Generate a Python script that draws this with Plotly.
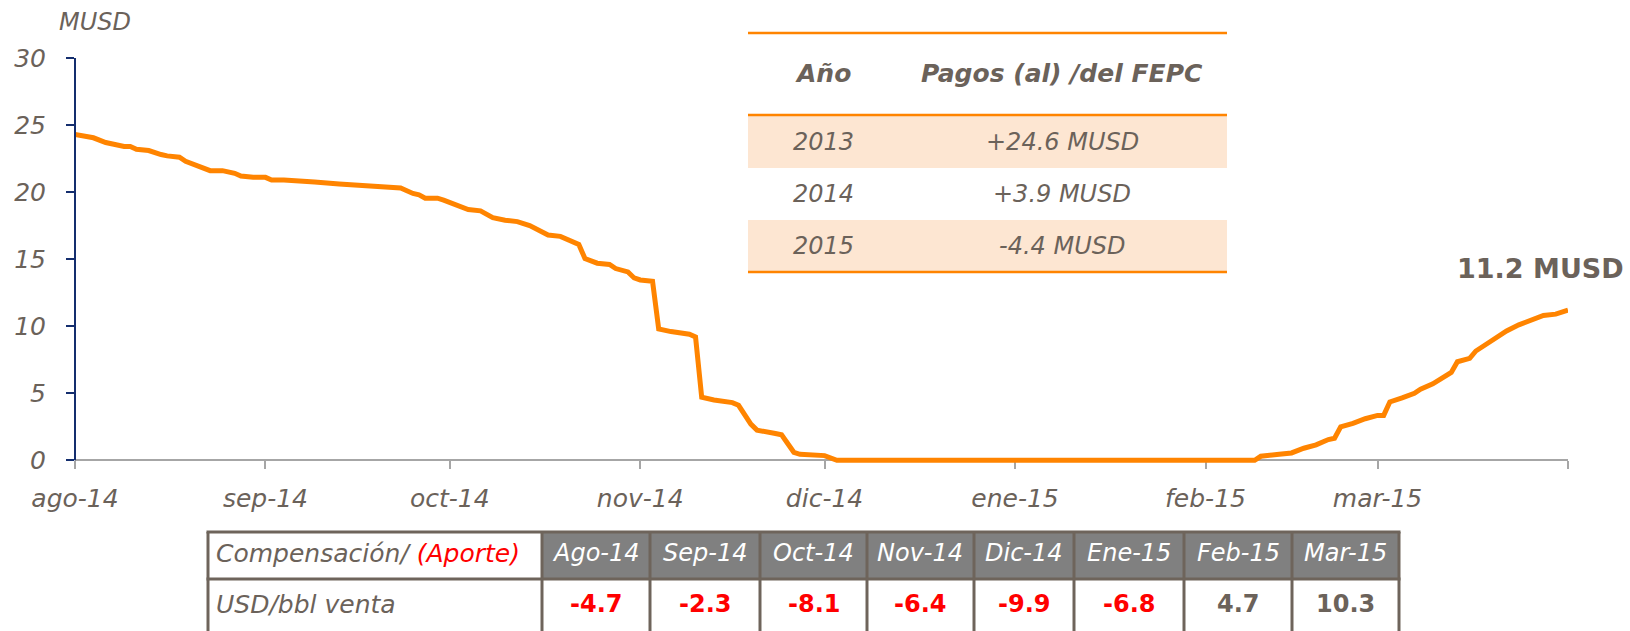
import plotly.graph_objects as go

# ---------------- data ----------------
dates = [
    "2014-08-01", "2014-08-03", "2014-08-04", "2014-08-06", "2014-08-07", "2014-08-09",
    "2014-08-10", "2014-08-11", "2014-08-13", "2014-08-14", "2014-08-15", "2014-08-16",
    "2014-08-18", "2014-08-19", "2014-08-21", "2014-08-22", "2014-08-23", "2014-08-25",
    "2014-08-27", "2014-08-28", "2014-08-30", "2014-09-01", "2014-09-02", "2014-09-04",
    "2014-09-07", "2014-09-09", "2014-09-13", "2014-09-15", "2014-09-18", "2014-09-22",
    "2014-09-23", "2014-09-25", "2014-09-26", "2014-09-27", "2014-09-29", "2014-09-30",
    "2014-10-02", "2014-10-04", "2014-10-06", "2014-10-07", "2014-10-08", "2014-10-10",
    "2014-10-12", "2014-10-14", "2014-10-16", "2014-10-17", "2014-10-19", "2014-10-20",
    "2014-10-22", "2014-10-23", "2014-10-25", "2014-10-27", "2014-10-28", "2014-10-30",
    "2014-10-31", "2014-11-01", "2014-11-03", "2014-11-04", "2014-11-06", "2014-11-09",
    "2014-11-10", "2014-11-11", "2014-11-13", "2014-11-16", "2014-11-17", "2014-11-19",
    "2014-11-20", "2014-11-23", "2014-11-24", "2014-11-26", "2014-11-27", "2014-12-01",
    "2014-12-03", "2015-02-09", "2015-02-10", "2015-02-13", "2015-02-15", "2015-02-17",
    "2015-02-19", "2015-02-21", "2015-02-22", "2015-02-23", "2015-02-25", "2015-02-27",
    "2015-03-01", "2015-03-02", "2015-03-03", "2015-03-05", "2015-03-07", "2015-03-08",
    "2015-03-10", "2015-03-13", "2015-03-14", "2015-03-16", "2015-03-17", "2015-03-19",
    "2015-03-21", "2015-03-22", "2015-03-24", "2015-03-26", "2015-03-28", "2015-03-30",
    "2015-04-01",
]
saldo_musd = [
    24.3, 24.1, 24.05, 23.7, 23.6, 23.4,
    23.4, 23.2, 23.1, 22.9, 22.8, 22.7,
    22.6, 22.3, 21.9, 21.8, 21.6, 21.6,
    21.4, 21.2, 21.1, 21.1, 20.9, 20.9,
    20.85, 20.75, 20.6, 20.55, 20.5, 20.4,
    20.3, 19.9, 19.8, 19.55, 19.55, 19.4,
    19.0, 18.7, 18.6, 18.4, 18.1, 17.9,
    17.8, 17.5, 17.0, 16.8, 16.7, 16.5,
    16.1, 15.05, 14.7, 14.6, 14.3, 14.05,
    13.6, 13.45, 13.35, 9.8, 9.6, 9.4,
    9.2, 4.7, 4.5, 4.3, 4.1, 2.7,
    2.25, 2.0, 1.9, 0.6, 0.45, 0.35,
    0.0, 0.0, 0.3, 0.45, 0.55, 0.9,
    1.15, 1.55, 1.65, 2.5, 2.75, 3.1,
    3.35, 3.35, 4.35, 4.65, 5.0, 5.3,
    5.7, 6.55, 7.35, 7.6, 8.15, 8.75,
    9.4, 9.65, 10.1, 10.5, 10.8, 10.9,
    11.2,
]

month_ticks = ["2014-08-01", "2014-09-01", "2014-10-01", "2014-11-01", "2014-12-01",
               "2015-01-01", "2015-02-01", "2015-03-01", "2015-04-01"]
month_labels = ["ago-14", "sep-14", "oct-14", "nov-14", "dic-14",
                "ene-15", "feb-15", "mar-15", ""]
y_ticks = [0, 5, 10, 15, 20, 25, 30]

anios = ["2013", "2014", "2015"]
pagos_fepc = [24.6, 3.9, -4.4]

meses_tabla = ["Ago-14", "Sep-14", "Oct-14", "Nov-14", "Dic-14", "Ene-15", "Feb-15", "Mar-15"]
usd_bbl_venta = [-4.7, -2.3, -8.1, -6.4, -9.9, -6.8, 4.7, 10.3]

# ---------------- layout helpers ----------------
W, H = 1630, 631
L, R, T, B = 75, 62, 58, 168
PW, PH = W - L - R, H - T - B
Y_MIN, Y_MAX = -0.2, 30


def fx(px):
    return (px - L) / PW


def fy(py):
    return (H - B - py) / PH


FONT = "DejaVu Sans, Verdana, sans-serif"
GRAY = "#6b625a"
ORANGE = "#ff8400"
NAVY = "#142e6e"
AXIS_GRAY = "#a6a6a6"
PEACH = "#fde6d2"
BORDER = "#6e645b"
RED = "#ff0000"

fig = go.Figure()
fig.add_trace(go.Scatter(
    x=dates, y=saldo_musd, mode="lines",
    line=dict(color=ORANGE, width=5),
    hoverinfo="skip", showlegend=False,
))

shapes = []
annotations = []

# y axis line from 0 to 30
shapes.append(dict(type="line", xref="paper", yref="y", x0=0, x1=0, y0=0, y1=30,
                   line=dict(color=NAVY, width=2), layer="above"))

# axis unit label and final value label
annotations.append(dict(text="MUSD", xref="paper", yref="paper", x=fx(95), y=fy(22),
                        showarrow=False, xanchor="center", yanchor="middle",
                        font=dict(family=FONT, size=24, color=GRAY, style="italic")))
annotations.append(dict(text=f"{saldo_musd[-1]:.1f} MUSD", xref="paper", yref="paper",
                        x=fx(1626), y=fy(268), showarrow=False, xanchor="right",
                        yanchor="middle",
                        font=dict(family=FONT, size=27, color=GRAY, weight="bold")))

# ---------------- FEPC table (top right) ----------------
tx0, tx1 = 748, 1227
row_edges = [116, 168, 220, 272]
for i, anio in enumerate(anios):
    if i % 2 == 0:
        shapes.append(dict(type="rect", xref="paper", yref="paper",
                           x0=fx(tx0), x1=fx(tx1), y0=fy(row_edges[i]), y1=fy(row_edges[i + 1]),
                           fillcolor=PEACH, line=dict(width=0), layer="below"))
    yc = fy((row_edges[i] + row_edges[i + 1]) / 2)
    annotations.append(dict(text=anio, xref="paper", yref="paper", x=fx(823), y=yc,
                            showarrow=False, xanchor="center", yanchor="middle",
                            font=dict(family=FONT, size=24, color=GRAY, style="italic")))
    annotations.append(dict(text=f"{pagos_fepc[i]:+.1f} MUSD", xref="paper", yref="paper",
                            x=fx(1062), y=yc, showarrow=False, xanchor="center",
                            yanchor="middle",
                            font=dict(family=FONT, size=24, color=GRAY, style="italic")))
for yl in (33, 115, 272):
    shapes.append(dict(type="line", xref="paper", yref="paper", x0=fx(tx0), x1=fx(tx1),
                       y0=fy(yl), y1=fy(yl), line=dict(color=ORANGE, width=2.5)))
for txt, xc in (("Año", 823), ("Pagos (al) /del FEPC", 1062)):
    annotations.append(dict(text=txt, xref="paper", yref="paper", x=fx(xc), y=fy(73),
                            showarrow=False, xanchor="center", yanchor="middle",
                            font=dict(family=FONT, size=25, color=GRAY,
                                      style="italic", weight="bold")))

# ---------------- compensation table (bottom) ----------------
col_edges = [208, 542, 650, 760, 867, 974, 1074, 1184, 1292, 1399]
top_y, mid_y, bot_y = 532, 579, 640
shapes.append(dict(type="rect", xref="paper", yref="paper",
                   x0=fx(col_edges[1]), x1=fx(col_edges[-1]), y0=fy(top_y), y1=fy(mid_y),
                   fillcolor="#808080", line=dict(width=0)))
for yl in (top_y, mid_y):
    shapes.append(dict(type="line", xref="paper", yref="paper",
                       x0=fx(col_edges[0] - 1.5), x1=fx(col_edges[-1] + 1.5),
                       y0=fy(yl), y1=fy(yl), line=dict(color=BORDER, width=3)))
for xe in col_edges:
    shapes.append(dict(type="line", xref="paper", yref="paper", x0=fx(xe), x1=fx(xe),
                       y0=fy(top_y), y1=fy(bot_y), line=dict(color=BORDER, width=3)))

annotations.append(dict(
    text=f"Compensación/ <span style='color:{RED}'>(Aporte)</span>",
    xref="paper", yref="paper", x=fx(214), y=fy(553), showarrow=False,
    xanchor="left", yanchor="middle",
    font=dict(family=FONT, size=25, color=GRAY, style="italic")))
annotations.append(dict(
    text="USD/bbl venta", xref="paper", yref="paper", x=fx(214), y=fy(604),
    showarrow=False, xanchor="left", yanchor="middle",
    font=dict(family=FONT, size=25, color=GRAY, style="italic")))
for i, mes in enumerate(meses_tabla):
    xc = fx((col_edges[i + 1] + col_edges[i + 2]) / 2)
    annotations.append(dict(text=mes, xref="paper", yref="paper", x=xc, y=fy(553),
                            showarrow=False, xanchor="center", yanchor="middle",
                            font=dict(family=FONT, size=24, color="white", style="italic")))
    v = usd_bbl_venta[i]
    annotations.append(dict(text=f"{v:.1f}", xref="paper", yref="paper", x=xc, y=fy(604),
                            showarrow=False, xanchor="center", yanchor="middle",
                            font=dict(family=FONT, size=24, weight="bold",
                                      color=RED if v < 0 else GRAY)))

fig.update_layout(
    width=W, height=H,
    margin=dict(l=L, r=R, t=T, b=B, pad=0),
    paper_bgcolor="white", plot_bgcolor="white",
    showlegend=False,
    xaxis=dict(
        type="date", range=["2014-08-01", "2015-04-01"],
        tickmode="array", tickvals=month_ticks, ticktext=month_labels,
        ticks="outside", ticklen=8, tickwidth=2, tickcolor=AXIS_GRAY,
        showline=True, linecolor=AXIS_GRAY, linewidth=2,
        anchor="free", position=(0 - Y_MIN) / (Y_MAX - Y_MIN),
        layer="below traces", showgrid=False, zeroline=False,
        tickfont=dict(family=FONT, size=25, color=GRAY, style="italic"),
        ticklabelstandoff=8,
    ),
    yaxis=dict(
        range=[Y_MIN, Y_MAX], tickmode="array", tickvals=y_ticks,
        ticks="outside", ticklen=8, tickwidth=2, tickcolor=NAVY,
        showline=False, showgrid=False, zeroline=False,
        tickfont=dict(family=FONT, size=25, color=GRAY, style="italic"),
        ticklabelstandoff=15,
    ),
    shapes=shapes,
    annotations=annotations,
)

fig.write_html("out.html")
